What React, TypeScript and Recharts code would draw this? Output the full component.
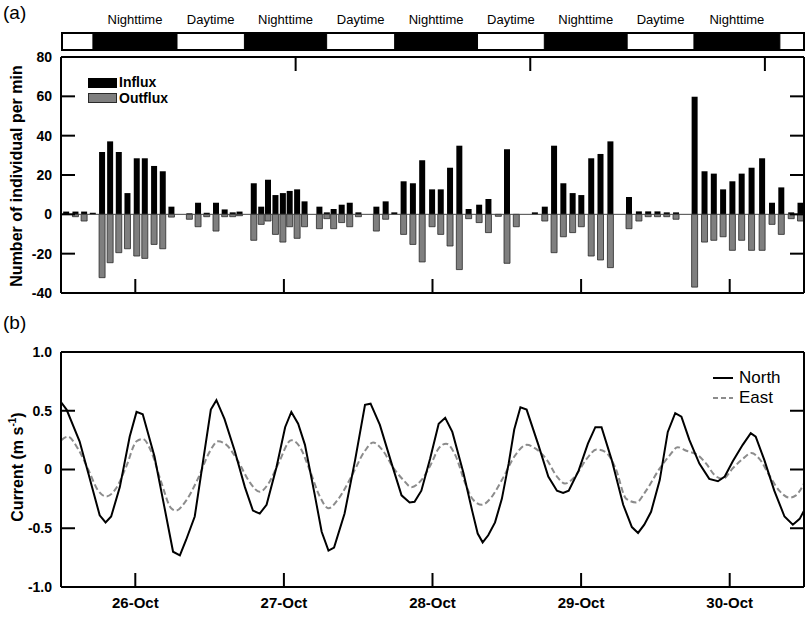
import React from "react";
import {
  Bar,
  BarChart,
  ComposedChart,
  Line,
  LineChart,
  ReferenceArea,
  ReferenceLine,
  XAxis,
  YAxis,
} from "recharts";

const FONT = '"Liberation Sans", Arial, sans-serif';

// time axis: hours since 25-Oct 00:00
const dayTicks = [24, 48, 72, 96, 120];
const dayLabels = ["26-Oct", "27-Oct", "28-Oct", "29-Oct", "30-Oct"];

// night periods (start, end) in hours
const nightStart = [17, 41.5, 65.8, 90, 114.2];
const nightEnd = [30.6, 54.8, 79.2, 103.4, 128.1];

// fish counts per min
const barTimes = [
  12.9, 14.4, 15.8, 17.2, 18.7, 20.0, 21.4, 22.8, 24.3, 25.6, 27.1, 28.5, 29.9,
  32.8, 34.2, 35.6, 37.1, 38.5, 39.8, 40.9, 43.2, 44.4, 45.5, 46.7, 47.9, 49.0,
  50.2, 51.4, 53.8, 55.0, 56.1, 57.4, 58.7, 60.1, 63.0, 64.5, 65.9, 67.4, 68.9,
  70.4, 72.0, 73.4, 74.9, 76.4, 77.9, 79.6, 81.1, 82.7, 84.1, 85.6, 88.6, 90.2,
  91.7, 93.2, 94.7, 96.1, 97.7, 99.2, 100.8, 103.8, 105.4, 106.9, 108.4, 109.9,
  111.4, 114.4, 116.0, 117.5, 119.0, 120.5, 122.0, 123.6, 125.3, 126.9, 128.4,
  130.0, 131.5,
];
const influx = [
  1.4, 1.4, 1.4, 0.8, 31.7, 37.1, 31.7, 10.8, 28.5, 28.5, 24.6, 21.9, 3.9,
  0.5, 5.9, 0.8, 5.9, 2.5, 1.0, 1.4, 15.8, 3.9, 17.6, 9.8, 10.8, 11.9,
  12.7, 6.6, 3.9, 1.0, 2.7, 4.9, 5.9, 1.0, 3.9, 6.6, 1.0, 16.8, 15.8,
  27.5, 12.7, 12.7, 23.7, 34.9, 2.7, 4.9, 7.8, 0, 33.1, 0, 1.0, 3.9,
  34.9, 15.8, 10.8, 9.8, 28.5, 30.7, 37.1, 8.8, 1.5, 1.5, 1.5, 1.0,
  1.0, 59.8, 21.9, 20.7, 12.7, 16.8, 20.7, 23.7, 28.5, 5.9, 13.7,
  1.0, 5.9,
];
const outflux = [
  0, -1.2, -3.4, 0, -32.2, -24.6, -19.5, -17.5, -21.2, -22.4, -15.3, -17.5, -1.4,
  -2.5, -6.3, -1.2, -8.5, -1.2, -1.2, -0.7, -13.2, -5.1, -3.4, -10.2, -14.1, -6.3,
  -12.2, -6.3, -7.3, -2.2, -7.3, -4.2, -6.3, -1.2, -8.5, -2.5, 0, -10.2, -15.3,
  -24.2, -6.3, -10.2, -16.1, -28.1, -2.2, -4.2, -9.3, -1.0, -24.9, -6.3, 0, -3.4,
  -19.5, -11.4, -9.3, -6.3, -21.2, -23.2, -27.1, -7.3, -3.4, -1.2, -1.2, -1.2,
  -2.5, -37, -14.1, -13.2, -11.4, -18.3, -13.2, -18.3, -18.3, -5.1, -10.2,
  -2.2, -3.4,
];

// current speed (m/s)
const northTimes = [
  12.05, 12.9, 15.0, 16.4, 18.25, 19.2, 20.1, 21.5, 23.1, 24.2, 25.2, 27.1, 28.7,
  30.1, 31.2, 32.2, 33.6, 35.2, 36.2, 37.1, 38.4, 40.05, 41.7, 43.0, 44.1, 45.2,
  46.8, 48.2, 49.2, 50.3, 51.4, 53.0, 54.1, 55.2, 56.1, 57.8, 59.5, 61.1, 62.0,
  63.5, 65.4, 67.0, 68.3, 69.1, 70.2, 71.6, 73.0, 74.05, 75.2, 77.0, 78.4, 79.3,
  80.1, 81.0, 82.1, 83.2, 84.3, 85.2, 86.2, 87.2, 89.1, 90.7, 92.1, 93.1, 94.0,
  95.6, 97.1, 98.3, 99.3, 100.95, 102.8, 104.2, 105.2, 106.2, 107.3, 108.7, 110.0,
  111.2, 112.2, 113.5, 115.1, 116.7, 118.1, 119.2, 120.5, 122.1, 123.4, 124.2,
  125.6, 127.2, 128.85, 130.2, 131.3, 132.0,
];
const northValues = [
  0.57, 0.51, 0.24, -0.03, -0.39, -0.45, -0.4, -0.15, 0.28, 0.49, 0.47, 0.11, -0.32,
  -0.7, -0.73, -0.6, -0.4, 0.16, 0.51, 0.59, 0.43, 0.16, -0.15, -0.35, -0.375, -0.3,
  0.02, 0.36, 0.49, 0.39, 0.21, -0.22, -0.53, -0.69, -0.665, -0.375, 0.08, 0.55, 0.56,
  0.38, 0.05, -0.22, -0.28, -0.275, -0.18, 0.09, 0.39, 0.44, 0.32, -0.03, -0.35, -0.545,
  -0.62, -0.56, -0.45, -0.25, 0.05, 0.34, 0.53, 0.51, 0.21, -0.06, -0.18, -0.2, -0.18,
  -0.01, 0.22, 0.36, 0.36, 0.08, -0.3, -0.49, -0.54, -0.47, -0.36, -0.09, 0.32,
  0.48, 0.45, 0.25, 0.05, -0.08, -0.1, -0.06, 0.07, 0.21, 0.31, 0.28,
  0.08, -0.18, -0.4, -0.47, -0.42, -0.35,
];
const eastTimes = [
  12.05, 13.1, 14.7, 16.4, 18.0, 19.3, 20.9, 22.5, 24.2, 25.2, 26.6, 28.2, 29.8,
  30.6, 32.0, 34.1, 36.0, 37.35, 38.7, 40.6, 42.5, 44.1, 45.5, 47.1, 49.2, 50.6,
  52.2, 53.8, 55.2, 56.8, 58.9, 61.1, 62.4, 64.0, 65.6, 67.3, 68.6, 70.2, 71.8,
  73.0, 74.2, 75.7, 77.3, 78.6, 80.0, 81.3, 83.2, 85.35, 87.2, 88.6, 90.5, 92.1,
  93.4, 95.0, 96.9, 98.5, 99.9, 101.5, 103.3, 104.9, 106.5, 108.7, 110.3, 111.6,
  113.0, 114.9, 116.2, 117.6, 118.9, 120.5, 122.1, 123.5, 124.8, 126.4, 128.0,
  129.7, 130.7, 132.0,
];
const eastValues = [
  0.25, 0.28, 0.18, 0.0, -0.18, -0.23, -0.16, 0.02, 0.24, 0.26, 0.15, -0.11, -0.33,
  -0.35, -0.28, -0.08, 0.15, 0.24, 0.21, 0.07, -0.11, -0.19, -0.12, 0.05, 0.25, 0.19,
  -0.01, -0.23, -0.33, -0.25, -0.06, 0.16, 0.23, 0.16, 0.02, -0.09, -0.15, -0.09, 0.05,
  0.18, 0.22, 0.12, -0.12, -0.26, -0.3, -0.25, -0.09, 0.12, 0.21, 0.18, 0.08, -0.06,
  -0.12, -0.06, 0.09, 0.17, 0.15, 0.02, -0.25, -0.28, -0.18, 0.01, 0.12, 0.19,
  0.16, 0.12, 0.05, -0.05, -0.08, 0.01, 0.09, 0.14, 0.09, -0.05, -0.18,
  -0.24, -0.22, -0.12,
];

const countTicks = [-40, -20, 0, 20, 40, 60, 80];
const currentTicks = [-1, -0.5, 0, 0.5, 1];

const barData = barTimes.map((t, i) => ({ t, influx: influx[i], outflux: outflux[i] }));
const northData = northTimes.map((t, i) => ({ t, v: northValues[i] }));
const eastData = eastTimes.map((t, i) => ({ t, v: eastValues[i] }));
const dayStart = [nightEnd[0], nightEnd[1], nightEnd[2], nightEnd[3]];
const dayEnd = [nightStart[1], nightStart[2], nightStart[3], nightStart[4]];

const X0 = 12;
const X1 = 132;
const TICK = 14;
const axisStroke = { stroke: "#000", strokeWidth: 2 };

function fmtCurrent(v: number) {
  if (v === 0) return "0";
  return v.toFixed(1);
}

// axis ticks are drawn inward; the custom tick draws the mark (and label) itself
function leftTick(fmt: (v: number) => string, lo: number, hi: number) {
  return (p: any) => {
    const v = p.payload.value;
    return (
      <g>
        {v > lo && v < hi ? (
          <line x1={p.x + 9} x2={p.x + 9 + TICK} y1={p.y} y2={p.y} stroke="#000" strokeWidth={2} />
        ) : null}
        <text
          x={p.x}
          y={p.y}
          dy="0.35em"
          textAnchor="end"
          fill="#000"
          fontSize={14}
          fontWeight="bold"
          fontFamily={FONT}
        >
          {fmt(v)}
        </text>
      </g>
    );
  };
}

function rightTick(lo: number, hi: number) {
  return (p: any) =>
    p.payload.value > lo && p.payload.value < hi ? (
      <line x1={p.x} x2={p.x + TICK} y1={p.y} y2={p.y} stroke="#000" strokeWidth={2} />
    ) : (
      <g />
    );
}

function bottomTick(p: any) {
  return <line x1={p.x} x2={p.x} y1={p.y} y2={p.y + TICK} stroke="#000" strokeWidth={2} />;
}

function topTick(p: any) {
  return <line x1={p.x} x2={p.x} y1={p.y - TICK} y2={p.y} stroke="#000" strokeWidth={2} />;
}

function dateTick(p: any) {
  const label = dayLabels[dayTicks.indexOf(p.payload.value)] ?? "";
  return (
    <g>
      <line x1={p.x} x2={p.x} y1={p.y - 24} y2={p.y - 24 + TICK} stroke="#000" strokeWidth={2} />
      <text
        x={p.x}
        y={p.y}
        dy="0.71em"
        textAnchor="middle"
        fill="#000"
        fontSize={15}
        fontWeight="bold"
        fontFamily={FONT}
      >
        {label}
      </text>
    </g>
  );
}

export default function App() {
  return (
    <div
      style={{
        position: "absolute",
        left: 0,
        top: 0,
        width: 809,
        height: 622,
        background: "#fff",
        fontFamily: FONT,
        color: "#000",
      }}
    >
      <div style={{ position: "absolute", left: 3, top: 2, fontSize: 19 }}>(a)</div>
      <div style={{ position: "absolute", left: 3, top: 312, fontSize: 19 }}>(b)</div>

      {/* day / night band */}
      <div style={{ position: "absolute", left: 0, top: 0 }}>
        <ComposedChart
          width={809}
          height={55}
          data={[{ t: X0 }, { t: X1 }]}
          margin={{ top: 33, right: 5, bottom: 5, left: 62 }}
        >
          <XAxis dataKey="t" type="number" domain={[X0, X1]} hide allowDataOverflow />
          <YAxis type="number" domain={[0, 1]} hide allowDataOverflow />
          <ReferenceArea x1={X0} x2={X1} y1={0} y2={1} fill="#fff" fillOpacity={1} stroke="#000" strokeWidth={2} />
          {nightStart.map((s, i) => (
            <ReferenceArea
              key={`n${i}`}
              x1={s}
              x2={nightEnd[i]}
              y1={0}
              y2={1}
              fill="#000"
              fillOpacity={1}
              stroke="#000"
              label={{ value: "Nighttime", position: "top", offset: 9, fill: "#000", fontSize: 13, fontFamily: FONT }}
            />
          ))}
          {dayStart.map((s, i) => (
            <ReferenceArea
              key={`d${i}`}
              x1={s}
              x2={dayEnd[i]}
              y1={0}
              y2={1}
              fill="none"
              fillOpacity={0}
              label={{ value: "Daytime", position: "top", offset: 9, fill: "#000", fontSize: 13, fontFamily: FONT }}
            />
          ))}
        </ComposedChart>
      </div>

      {/* (a) fish counts */}
      <div style={{ position: "absolute", left: 0, top: 0 }}>
        <BarChart
          width={809}
          height={300}
          data={barData}
          stackOffset="sign"
          barSize={6}
          margin={{ top: 56, right: 4, bottom: 6, left: 0 }}
        >
          <XAxis
            xAxisId="b"
            dataKey="t"
            type="number"
            domain={[X0, X1]}
            ticks={dayTicks}
            interval={0}
            tick={bottomTick}
            tickLine={false}
            tickSize={-TICK}
            tickMargin={0}
            height={1}
            axisLine={axisStroke}
            allowDataOverflow
          />
          <XAxis
            xAxisId="top"
            orientation="top"
            type="number"
            domain={[X0, X1]}
            ticks={dayTicks}
            interval={0}
            tick={topTick}
            tickLine={false}
            tickSize={-TICK}
            tickMargin={0}
            height={1}
            axisLine={axisStroke}
            allowDataOverflow
          />
          <YAxis
            yAxisId="l"
            type="number"
            domain={[-40, 80]}
            ticks={countTicks}
            interval={0}
            width={61}
            tickSize={-TICK}
            tickMargin={23}
            tick={leftTick((v) => String(v), -40, 80)}
            tickLine={false}
            axisLine={axisStroke}
            allowDataOverflow
          />
          <YAxis
            yAxisId="r"
            orientation="right"
            type="number"
            domain={[-40, 80]}
            ticks={countTicks}
            interval={0}
            width={1}
            tick={rightTick(-40, 80)}
            tickSize={-TICK}
            tickMargin={0}
            tickLine={false}
            axisLine={axisStroke}
            allowDataOverflow
          />
          <Bar xAxisId="b" yAxisId="l" dataKey="influx" stackId="s" fill="#000" isAnimationActive={false} />
          <Bar
            xAxisId="b"
            yAxisId="l"
            dataKey="outflux"
            stackId="s"
            fill="#7f7f7f"
            stroke="#2a2a2a"
            strokeWidth={0.8}
            isAnimationActive={false}
          />
          <ReferenceLine xAxisId="b" yAxisId="l" y={0} stroke="#444" strokeWidth={1} />
        </BarChart>
      </div>

      {/* legend (a) */}
      <div style={{ position: "absolute", left: 88, top: 78, width: 29, height: 10, background: "#000" }} />
      <div
        style={{
          position: "absolute",
          left: 88,
          top: 93,
          width: 27,
          height: 8,
          background: "#7f7f7f",
          border: "1px solid #2a2a2a",
        }}
      />
      <div style={{ position: "absolute", left: 119, top: 74, fontSize: 14, fontWeight: "bold", lineHeight: "17px" }}>
        Influx
      </div>
      <div style={{ position: "absolute", left: 119, top: 90, fontSize: 14, fontWeight: "bold", lineHeight: "17px" }}>
        Outflux
      </div>

      <div
        style={{
          position: "absolute",
          left: 17,
          top: 176,
          transform: "translate(-50%, -50%) rotate(-90deg)",
          whiteSpace: "nowrap",
          fontSize: 16,
          fontWeight: "bold",
        }}
      >
        Number of individual per min
      </div>

      {/* (b) currents */}
      <div style={{ position: "absolute", left: 0, top: 322 }}>
        <LineChart width={809} height={300} margin={{ top: 29, right: 4, bottom: 5, left: 0 }}>
          <XAxis
            xAxisId="b"
            dataKey="t"
            type="number"
            domain={[X0, X1]}
            ticks={dayTicks}
            interval={0}
            tick={dateTick}
            tickSize={-TICK}
            tickMargin={24}
            tickLine={false}
            height={30}
            axisLine={axisStroke}
            allowDataOverflow
          />
          <XAxis
            xAxisId="top"
            orientation="top"
            type="number"
            domain={[X0, X1]}
            ticks={dayTicks}
            interval={0}
            tick={topTick}
            tickSize={-TICK}
            tickMargin={0}
            tickLine={false}
            height={1}
            axisLine={axisStroke}
            allowDataOverflow
          />
          <YAxis
            yAxisId="l"
            type="number"
            domain={[-1, 1]}
            ticks={currentTicks}
            interval={0}
            width={61}
            tickSize={-TICK}
            tickMargin={23}
            tick={leftTick(fmtCurrent, -1, 1)}
            tickLine={false}
            axisLine={axisStroke}
            allowDataOverflow
          />
          <YAxis
            yAxisId="r"
            orientation="right"
            type="number"
            domain={[-1, 1]}
            ticks={currentTicks}
            interval={0}
            width={1}
            tick={rightTick(-1, 1)}
            tickSize={-TICK}
            tickMargin={0}
            tickLine={false}
            axisLine={axisStroke}
            allowDataOverflow
          />
          <Line
            xAxisId="b"
            yAxisId="l"
            data={eastData}
            dataKey="v"
            type="monotone"
            stroke="#8c8c8c"
            strokeWidth={2}
            strokeDasharray="6 3"
            dot={false}
            isAnimationActive={false}
          />
          <Line
            xAxisId="b"
            yAxisId="l"
            data={northData}
            dataKey="v"
            type="linear"
            stroke="#000"
            strokeWidth={2}
            dot={false}
            isAnimationActive={false}
          />
        </LineChart>
      </div>

      {/* legend (b) */}
      <svg style={{ position: "absolute", left: 710, top: 368 }} width={30} height={40}>
        <line x1={3} y1={10} x2={23} y2={10} stroke="#000" strokeWidth={2} />
        <line x1={3} y1={30} x2={23} y2={30} stroke="#8c8c8c" strokeWidth={2} strokeDasharray="5 3" />
      </svg>
      <div style={{ position: "absolute", left: 739, top: 368, fontSize: 17, lineHeight: "20px" }}>North</div>
      <div style={{ position: "absolute", left: 739, top: 388, fontSize: 17, lineHeight: "20px" }}>East</div>

      <div
        style={{
          position: "absolute",
          left: 17,
          top: 467,
          transform: "translate(-50%, -50%) rotate(-90deg)",
          whiteSpace: "nowrap",
          fontSize: 16,
          fontWeight: "bold",
        }}
      >
        Current (m s<sup style={{ fontSize: 10 }}>-1</sup>)
      </div>
    </div>
  );
}
